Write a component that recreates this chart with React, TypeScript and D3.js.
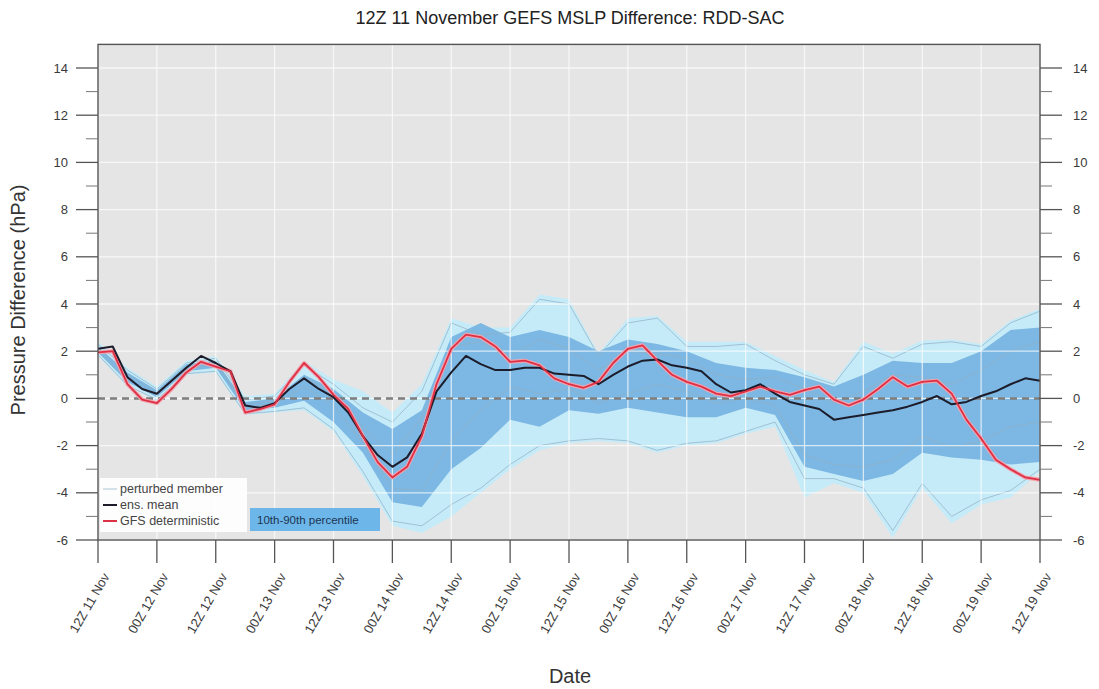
import React from "react";
import * as d3 from "d3";

// forecast hours, 3-hourly for the lines, 6-hourly for the ensemble envelopes
const hours3 = d3.range(0, 193, 3);
const hours6 = d3.range(0, 193, 6);

const ensMean = [
  2.1, 2.2, 0.9, 0.4, 0.2, 0.75, 1.3, 1.8, 1.5, 1.15, -0.3, -0.4, -0.2, 0.4, 0.85, 0.4, 0.05,
  -0.6, -1.6, -2.4, -2.9, -2.5, -1.5, 0.3, 1.1, 1.8, 1.45, 1.2, 1.2, 1.3, 1.3, 1.05, 1.0, 0.95,
  0.6, 1.0, 1.35, 1.6, 1.65, 1.4, 1.3, 1.15, 0.6, 0.25, 0.35, 0.6, 0.2, -0.15, -0.3, -0.45, -0.9,
  -0.8, -0.7, -0.6, -0.5, -0.35, -0.15, 0.1, -0.25, -0.15, 0.1, 0.3, 0.6, 0.85, 0.75,
];

const gfsDet = [
  1.95, 2.0, 0.6, -0.05, -0.2, 0.4, 1.1, 1.55, 1.35, 1.15, -0.6, -0.45, -0.25, 0.7, 1.5, 0.9,
  0.15, -0.45, -1.6, -2.7, -3.35, -2.9, -1.6, 0.6, 2.1, 2.7, 2.6, 2.2, 1.55, 1.6, 1.4, 0.85, 0.6,
  0.45, 0.7, 1.5, 2.1, 2.25, 1.6, 1.0, 0.7, 0.5, 0.2, 0.1, 0.3, 0.5, 0.3, 0.15, 0.35, 0.5, -0.05,
  -0.3, -0.05, 0.4, 0.9, 0.5, 0.7, 0.75, 0.2, -0.9, -1.7, -2.6, -3.0, -3.35, -3.45,
];

const memberMax = [
  2.4, 1.3, 0.5, 1.6, 1.8, 0.1, 0.2, 1.6, 0.8, 0.3, -0.6, 0.6, 3.4, 3.0, 3.0, 4.4, 4.2, 1.9, 3.4,
  3.5, 2.4, 2.4, 2.4, 1.8, 1.2, 0.7, 2.4, 1.9, 2.45, 2.5, 2.3, 3.3, 3.8,
];
const pct90 = [
  2.2, 1.1, 0.35, 1.45, 1.6, -0.15, 0.0, 1.0, 0.4, -0.6, -1.3, -0.5, 2.6, 3.2, 2.6, 2.9, 2.6, 2.0,
  2.5, 2.3, 2.0, 1.5, 1.3, 1.2, 0.9, 0.5, 1.0, 1.6, 1.5, 1.5, 2.0, 2.9, 3.0,
];
const pct10 = [
  1.95, 0.7, 0.05, 1.15, 1.3, -0.5, -0.4, -0.1, -1.0, -2.3, -4.4, -4.6, -3.0, -2.1, -0.9, -1.2,
  -0.5, -0.65, -0.4, -0.6, -0.8, -0.8, -0.4, -0.7, -2.9, -3.2, -3.5, -3.2, -2.3, -2.5, -2.6, -2.8,
  -2.7,
];
const memberMin = [
  1.8, 0.5, -0.1, 1.0, 1.1, -0.7, -0.6, -0.5, -1.4, -3.3, -5.4, -5.7, -5.0, -4.0, -3.0, -2.2,
  -1.9, -1.8, -1.9, -2.3, -2.0, -1.9, -1.5, -1.2, -4.2, -3.6, -4.0, -5.9, -3.8, -5.3, -4.5, -4.2,
  -3.1,
];

const memberA = [
  2.3, 1.2, 0.4, 1.5, 1.7, -0.05, 0.1, 1.4, 0.6, -0.4, -1.0, 0.3, 3.2, 2.7, 2.8, 4.2, 4.0, 1.8,
  3.2, 3.4, 2.2, 2.2, 2.3, 1.6, 1.0, 0.6, 2.2, 1.7, 2.3, 2.4, 2.2, 3.2, 3.7,
];
const memberB = [
  1.85, 0.55, -0.05, 1.05, 1.15, -0.65, -0.55, -0.4, -1.3, -3.1, -5.2, -5.4, -4.5, -3.8, -2.8,
  -2.0, -1.8, -1.7, -1.8, -2.2, -1.9, -1.8, -1.4, -1.0, -3.4, -3.4, -3.8, -5.6, -3.6, -5.0, -4.3,
  -3.9, -3.0,
];
const memberC = [
  2.0, 0.8, 0.15, 1.25, 1.45, -0.35, -0.25, 0.5, -0.3, -1.9, -3.8, -3.9, -1.8, -0.5, 0.5, 0.2,
  0.4, -0.2, 0.2, 0.6, 0.3, -0.2, 0.0, -0.3, -2.4, -2.8, -2.9, -2.6, -1.6, -2.1, -1.8, -1.2, -1.0,
];
const memberD = [
  2.15, 1.0, 0.25, 1.35, 1.55, -0.25, -0.1, 0.9, 0.2, -1.2, -2.4, -0.8, 2.2, 2.4, 1.8, 2.5, 2.1,
  1.2, 2.0, 1.9, 1.7, 1.0, 0.8, 0.9, 0.4, -0.2, 0.3, 1.0, 0.9, 0.6, 1.2, 2.0, 2.4,
];
const members = [memberA, memberB, memberC, memberD];

const xTickLabels = [
  "12Z 11 Nov", "00Z 12 Nov", "12Z 12 Nov", "00Z 13 Nov", "12Z 13 Nov", "00Z 14 Nov",
  "12Z 14 Nov", "00Z 15 Nov", "12Z 15 Nov", "00Z 16 Nov", "12Z 16 Nov", "00Z 17 Nov",
  "12Z 17 Nov", "00Z 18 Nov", "12Z 18 Nov", "00Z 19 Nov", "12Z 19 Nov",
];
const yTicks = [-6, -4, -2, 0, 2, 4, 6, 8, 10, 12, 14];
const yMinor = [-5, -3, -1, 1, 3, 5, 7, 9, 11, 13];

const FONT = "'Liberation Sans', Arial, Helvetica, sans-serif";

export default function App() {
  const W = 1099, H = 689;
  const x = d3.scaleLinear().domain([0, 192]).range([98, 1040]);
  const y = d3.scaleLinear().domain([-6, 14]).range([540, 68]);
  const top = y(15);
  const left = x(0), right = x(192), bottom = y(-6);

  const band = (lo: number[], hi: number[]) =>
    d3.area<number>().x((d, i) => x(hours6[i])).y0((d, i) => y(lo[i])).y1((d) => y(d))(hi)!;
  const line6 = d3.line<number>().x((d, i) => x(hours6[i])).y((d) => y(d));
  const line3 = d3.line<number>().x((d, i) => x(hours3[i])).y((d) => y(d));

  const xTicks = xTickLabels.map((_, i) => i * 12);

  return (
    <svg width={W} height={H} style={{ display: "block", position: "absolute", left: 0, top: 0 }}>
      <rect width={W} height={H} fill="#ffffff" />
      <text x={570} y={24} textAnchor="middle" fontFamily={FONT} fontSize={18} fill="#222">
        12Z 11 November GEFS MSLP Difference: RDD-SAC
      </text>

      <rect x={left} y={top} width={right - left} height={bottom - top} fill="#e5e5e5" />

      <path d={band(memberMin, memberMax)} fill="#c6ebf8" />
      <path d={band(pct10, pct90)} fill="#78b5e1" opacity={0.95} />
      {members.map((m, i) => (
        <path key={i} d={line6(m)!} fill="none" stroke="#8fb0c4" strokeWidth={0.9} opacity={0.8} />
      ))}

      {/* grid drawn over the fills */}
      {xTicks.map((t) => (
        <line key={"gx" + t} x1={x(t)} x2={x(t)} y1={top} y2={bottom} stroke="#fff" strokeWidth={1.3} opacity={0.7} />
      ))}
      {yTicks.map((v) => (
        <line key={"gy" + v} x1={left} x2={right} y1={y(v)} y2={y(v)} stroke="#fff" strokeWidth={1.3} opacity={0.7} />
      ))}

      <line x1={left} x2={right} y1={y(0)} y2={y(0)} stroke="#7d7d7d" strokeWidth={2.5} strokeDasharray="7 5" />

      <path d={line3(gfsDet)!} fill="none" stroke="#f4a3ad" strokeWidth={4} strokeLinejoin="round" />
      <path d={line3(ensMean)!} fill="none" stroke="#1c1c2a" strokeWidth={2} strokeLinejoin="round" />
      <path d={line3(gfsDet)!} fill="none" stroke="#dc3047" strokeWidth={1.8} strokeLinejoin="round" />

      {/* frame */}
      <rect x={left} y={top} width={right - left} height={bottom - top} fill="none" stroke="#555" strokeWidth={1.4} />

      {/* y axes, both sides */}
      {yTicks.map((v) => (
        <g key={"ty" + v} fontFamily={FONT} fontSize={13} fill="#3a3a3a">
          <line x1={left - 22} x2={left} y1={y(v)} y2={y(v)} stroke="#555" strokeWidth={1.3} />
          <line x1={right} x2={right + 22} y1={y(v)} y2={y(v)} stroke="#555" strokeWidth={1.3} />
          <text x={left - 30} y={y(v)} dy="0.35em" textAnchor="end">{v}</text>
          <text x={right + 33} y={y(v)} dy="0.35em" textAnchor="start">{v}</text>
        </g>
      ))}
      {yMinor.map((v) => (
        <g key={"my" + v}>
          <line x1={left - 12} x2={left} y1={y(v)} y2={y(v)} stroke="#777" strokeWidth={1} />
          <line x1={right} x2={right + 12} y1={y(v)} y2={y(v)} stroke="#777" strokeWidth={1} />
        </g>
      ))}

      {/* x axis */}
      {xTicks.map((t, i) => (
        <g key={"tx" + t}>
          <line x1={x(t)} x2={x(t)} y1={bottom} y2={bottom + 23} stroke="#555" strokeWidth={1.3} />
          <text
            transform={`translate(${x(t) + 8},${bottom + 34}) rotate(-60)`}
            textAnchor="end"
            dy="0.35em"
            fontFamily={FONT}
            fontSize={13}
            fill="#3a3a3a"
          >
            {xTickLabels[i]}
          </text>
        </g>
      ))}

      <text transform="translate(25,300) rotate(-90)" textAnchor="middle" fontFamily={FONT} fontSize={20} fill="#333">
        Pressure Difference (hPa)
      </text>
      <text x={570} y={683} textAnchor="middle" fontFamily={FONT} fontSize={20} fill="#333">
        Date
      </text>

      {/* legend */}
      <g fontFamily={FONT} fontSize={12.5} fill="#444">
        <rect x={100} y={478} width={147} height={54} fill="#ffffff" opacity={0.92} />
        <line x1={103} x2={117} y1={489} y2={489} stroke="#a9c4d4" strokeWidth={1} />
        <text x={120} y={493}>perturbed member</text>
        <line x1={103} x2={117} y1={505} y2={505} stroke="#1c1c2a" strokeWidth={2} />
        <text x={120} y={509}>ens. mean</text>
        <line x1={103} x2={117} y1={521} y2={521} stroke="#dc3047" strokeWidth={2} />
        <text x={120} y={525}>GFS deterministic</text>
        <rect x={250} y={508} width={130} height={23} fill="#6cb6ea" />
        <text x={257} y={524} fontSize={11.5} fill="#1d3550">10th-90th percentile</text>
      </g>
    </svg>
  );
}
